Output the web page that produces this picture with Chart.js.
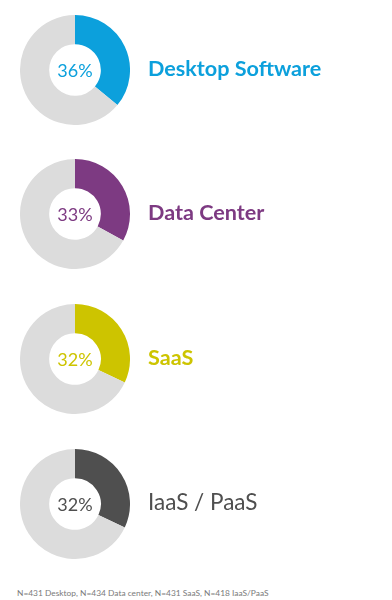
<!DOCTYPE html>
<html>
<head>
<meta charset="utf-8">
<script src="https://cdn.jsdelivr.net/npm/chart.js@4.4.0/dist/chart.umd.min.js"></script>
<style>
  body { margin: 0; background: #fff; font-family: Lato, "Open Sans", sans-serif; }
  #wrap { position: relative; width: 392px; height: 600px; overflow: hidden; }
  .ring { position: absolute; left: 20px; width: 110px; height: 110px; }
  .pct { position: absolute; left: 20px; width: 110px; text-align: center; font-size: 18px; line-height: 20px; }
  .name { position: absolute; left: 148px; font-size: 21.6px; line-height: 26px; font-weight: 700; white-space: nowrap; }
  .note { position: absolute; left: 17px; top: 588px; font-size: 8.4px; color: #7a7a7a; white-space: nowrap; }
</style>
</head>
<body>
<div id="wrap">
  <div class="note">N=431 Desktop, N=434 Data center, N=431 SaaS, N=418 IaaS/PaaS</div>
</div>
<script>
    var categories = ['Desktop Software', 'Data Center', 'SaaS', 'IaaS / PaaS']
    var shares = [36, 33, 32, 32]
    var colors = ['#0ca0dc', '#7d3a82', '#cdc400', '#4f4f4f']
    var restColor = '#dcdcdc'
    var centersY = [70, 214, 359, 504]

    var wrap = document.getElementById('wrap')
    for (var i = 0; i < categories.length; i++) {
        var canvas = document.createElement('canvas')
        canvas.className = 'ring'
        canvas.width = 110
        canvas.height = 110
        canvas.style.top = (centersY[i] - 55) + 'px'
        wrap.appendChild(canvas)

        var pct = document.createElement('div')
        pct.className = 'pct'
        pct.style.top = (centersY[i] - 10) + 'px'
        pct.style.color = colors[i]
        pct.textContent = shares[i] + '%'
        wrap.appendChild(pct)

        var lbl = document.createElement('div')
        lbl.className = 'name'
        lbl.style.top = (centersY[i] - 15) + 'px'
        lbl.style.color = colors[i]
        // last label is set lighter and a bit bigger in the original
        if (i == 3) { lbl.style.fontWeight = 400; lbl.style.fontSize = '22.5px' }
        lbl.textContent = categories[i]
        wrap.appendChild(lbl)

        new Chart(canvas.getContext('2d'), {
            type: 'doughnut',
            data: {
                labels: [categories[i], 'Other'],
                datasets: [{
                    data: [shares[i], 100 - shares[i]],
                    backgroundColor: [colors[i], restColor],
                    borderWidth: 0,
                    hoverOffset: 0
                }]
            },
            options: {
                responsive: false,
                animation: false,
                cutout: '47%',
                layout: { padding: 0 },
                plugins: {
                    legend: { display: false },
                    tooltip: { enabled: false }
                }
            }
        })
    }
</script>
</body>
</html>
